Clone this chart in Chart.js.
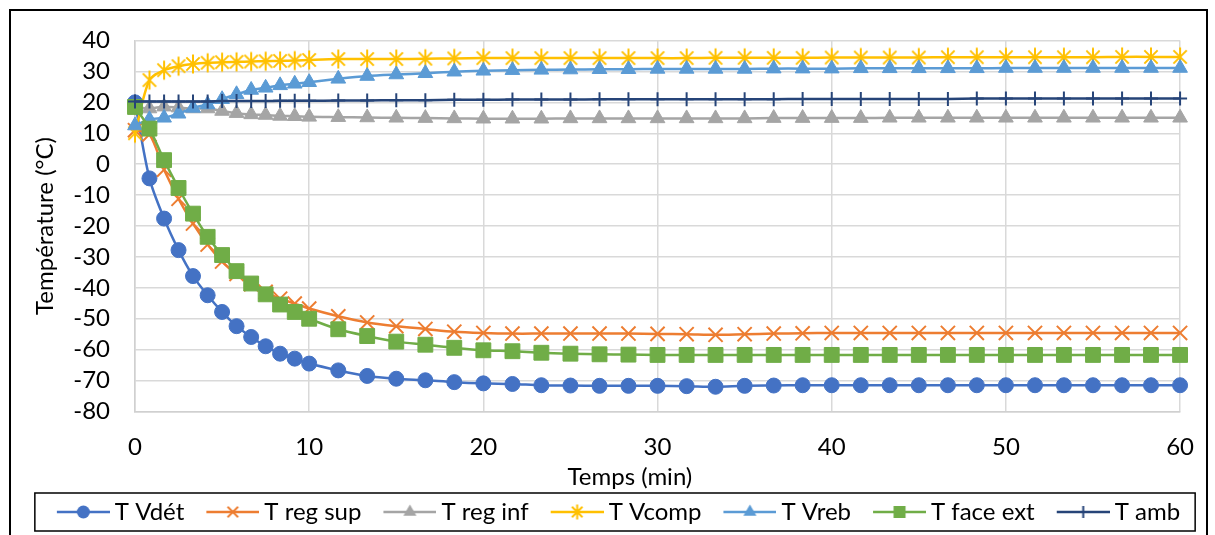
<!DOCTYPE html>
<html>
<head>
<meta charset="utf-8">
<script src="https://cdn.jsdelivr.net/npm/chart.js@4.4.1/dist/chart.umd.min.js"></script>
<style>
  html, body { margin: 0; padding: 0; background: #fff; }
  #frame { position: absolute; left: 9px; top: 9px; width: 1199px; height: 600px; border: 2px solid #000; box-sizing: border-box; }
  #c { position: absolute; left: 0; top: 0; }
</style>
</head>
<body>
<div id="frame"></div>
<canvas id="c" width="1215" height="535"></canvas>
<script>
// ---- data ----
const times = [0, 0.83, 1.67, 2.5, 3.33, 4.17, 5, 5.83, 6.67, 7.5, 8.33, 9.17, 10,
  11.67, 13.33, 15, 16.67, 18.33, 20, 21.67, 23.33, 25, 26.67, 28.33, 30,
  31.67, 33.33, 35, 36.67, 38.33, 40, 41.67, 43.33, 45, 46.67, 48.33, 50,
  51.67, 53.33, 55, 56.67, 58.33, 60];

const tVdet = [20, -4.6, -17.6, -27.8, -36.2, -42.4, -47.8, -52.4, -55.9, -58.9, -61.3, -62.9, -64.5,
  -66.7, -68.5, -69.4, -69.9, -70.5, -70.9, -71.1, -71.5, -71.6, -71.7, -71.7, -71.7,
  -71.8, -72.0, -71.7, -71.6, -71.5, -71.5, -71.5, -71.5, -71.5, -71.5, -71.5, -71.5,
  -71.5, -71.5, -71.5, -71.5, -71.5, -71.5];

const tRegSup = [11, 9.6, -1.8, -11.2, -19.2, -26, -31.5, -35.5, -38.8, -41.3, -43.5, -45.1, -46.7,
  -49.2, -51.2, -52.4, -53.3, -54.2, -54.6, -54.8, -54.8, -54.8, -54.8, -54.8, -54.9,
  -55.0, -55.2, -55.0, -54.8, -54.7, -54.6, -54.6, -54.6, -54.6, -54.6, -54.6, -54.6,
  -54.6, -54.6, -54.6, -54.6, -54.6, -54.6];

const tRegInf = [18.5, 18.0, 18.6, 18.3, 18.0, 18.0, 17.2, 16.5, 16.1, 15.9, 15.6, 15.5, 15.3,
  15.2, 15.1, 15.0, 14.9, 14.8, 14.7, 14.7, 14.7, 14.8, 14.8, 14.8, 14.8,
  14.8, 14.8, 14.8, 14.9, 14.9, 14.9, 14.9, 15.0, 15.0, 15.0, 15.0, 15.0,
  15.0, 15.0, 15.0, 15.0, 15.0, 15.0];

const tVcomp = [10, 27.2, 30.4, 31.7, 32.4, 32.8, 33.0, 33.1, 33.2, 33.3, 33.4, 33.5, 33.7,
  34.0, 34.0, 34.0, 34.1, 34.2, 34.3, 34.3, 34.3, 34.3, 34.3, 34.3, 34.3,
  34.3, 34.4, 34.4, 34.4, 34.4, 34.5, 34.5, 34.5, 34.5, 34.6, 34.6, 34.6,
  34.6, 34.6, 34.6, 34.7, 34.7, 34.7];

const tVreb = [12.5, 14.5, 15.0, 16.3, 18.2, 19.3, 21.0, 22.6, 24.0, 24.7, 25.5, 26.0, 26.5,
  27.6, 28.5, 29.0, 29.4, 29.9, 30.2, 30.4, 30.5, 30.6, 30.7, 30.7, 30.8,
  30.8, 30.8, 30.8, 30.9, 30.9, 30.9, 31.0, 31.0, 31.0, 31.0, 31.0, 31.1,
  31.1, 31.1, 31.1, 31.1, 31.1, 31.1];

const tFaceExt = [18.5, 11.5, 1.3, -7.7, -16, -23.5, -29.4, -34.6, -38.6, -42.1, -45.4, -47.8, -50,
  -53.4, -55.6, -57.4, -58.4, -59.4, -60.2, -60.5, -61.0, -61.3, -61.5, -61.6, -61.7,
  -61.7, -61.7, -61.7, -61.7, -61.7, -61.7, -61.7, -61.7, -61.7, -61.7, -61.7, -61.7,
  -61.7, -61.7, -61.7, -61.7, -61.7, -61.7];

const tAmb = [20.3, 20.3, 20.3, 20.3, 20.3, 20.3, 20.4, 20.4, 20.4, 20.4, 20.5, 20.5, 20.5,
  20.6, 20.6, 20.7, 20.7, 20.8, 20.8, 20.9, 20.9, 20.9, 21.0, 21.0, 21.0,
  21.0, 21.0, 21.0, 21.0, 21.1, 21.1, 21.1, 21.1, 21.1, 21.1, 21.2, 21.2,
  21.2, 21.2, 21.2, 21.2, 21.2, 21.2];

const seriesNames = ['T Vdét', 'T reg sup', 'T reg inf', 'T Vcomp', 'T Vreb', 'T face ext', 'T amb'];
const xTitle = 'Temps (min)';
const yTitle = 'Température (°C)';
const xTickValues = [0, 10, 20, 30, 40, 50, 60];
const yTickValues = [-80, -70, -60, -50, -40, -30, -20, -10, 0, 10, 20, 30, 40];

// ---- styling ----
const FONT = 'Lato';
const FS = 24;
const colors = ['#4472C4', '#ED7D31', '#A5A5A5', '#FFC000', '#5B9BD5', '#70AD47', '#264478'];
const styles = ['circle', 'crossRot', 'triangle', 'star', 'triangle', 'rect', 'cross'];
const radii = [7.5, 10, 8.5, 10, 8.5, 10.5, 7];
const seriesValues = [tVdet, tRegSup, tRegInf, tVcomp, tVreb, tFaceExt, tAmb];

function drawMarker(ctx, style, color, x, y, s) {
  ctx.fillStyle = color; ctx.strokeStyle = color; ctx.lineWidth = 2;
  ctx.beginPath();
  if (style === 'circle') { ctx.arc(x, y, s, 0, Math.PI * 2); ctx.fill(); }
  else if (style === 'rect') { ctx.fillRect(x - s, y - s, 2 * s, 2 * s); }
  else if (style === 'triangle') {
    ctx.moveTo(x, y - s); ctx.lineTo(x + s * 0.87, y + s * 0.5); ctx.lineTo(x - s * 0.87, y + s * 0.5); ctx.closePath(); ctx.fill();
  } else if (style === 'crossRot') {
    const d = s * 0.7;
    ctx.moveTo(x - d, y - d); ctx.lineTo(x + d, y + d); ctx.moveTo(x + d, y - d); ctx.lineTo(x - d, y + d); ctx.stroke();
  } else if (style === 'star') {
    const d = s * 0.7;
    ctx.moveTo(x - d, y - d); ctx.lineTo(x + d, y + d); ctx.moveTo(x + d, y - d); ctx.lineTo(x - d, y + d);
    ctx.moveTo(x, y - s); ctx.lineTo(x, y + s); ctx.stroke();
  } else if (style === 'cross') {
    ctx.moveTo(x, y - s); ctx.lineTo(x, y + s); ctx.stroke();
  }
}

// Excel-like asterisk marker (X plus vertical bar) used for T Vcomp points
function starImage() {
  const cv = document.createElement('canvas');
  cv.width = 22; cv.height = 22;
  drawMarker(cv.getContext('2d'), 'star', colors[3], 11, 11, 9.5);
  return cv;
}
const STAR_IMG = starImage();

// legend symbol: line of 53px plus marker, ending 5px before the text
const LEG_LINE = 53, LEG_PAD = 0, LEG_B = 68, LEG_W = LEG_B + 14;
function legendImage(i) {
  const cv = document.createElement('canvas');
  cv.width = LEG_W; cv.height = 22;
  const ctx = cv.getContext('2d');
  ctx.strokeStyle = colors[i]; ctx.lineWidth = 2.5;
  ctx.beginPath(); ctx.moveTo(LEG_W - LEG_LINE, 11); ctx.lineTo(LEG_W, 11); ctx.stroke();
  const cx = LEG_W - LEG_LINE / 2;
  const sizes = {circle: 6.5, rect: 6, triangle: 7.5, crossRot: 7.5, star: 7.5, cross: 6};
  drawMarker(ctx, styles[i], colors[i], cx, 11, sizes[styles[i]]);
  return cv;
}

const datasets = seriesNames.map((name, i) => ({
  label: name,
  data: times.map((t, k) => ({x: t, y: seriesValues[i][k]})),
  borderColor: colors[i],
  backgroundColor: colors[i],
  borderWidth: 2.5,
  pointStyle: styles[i] === 'star' ? STAR_IMG : styles[i],
  pointRadius: radii[i],
  pointBorderWidth: (styles[i] === 'crossRot' || styles[i] === 'cross') ? 2 : 1,
  pointBackgroundColor: colors[i],
  pointBorderColor: colors[i],
  tension: 0.3,
  clip: false,
  order: seriesNames.length - 1 - i
}));

const legendBorder = {
  id: 'legendBorder',
  afterDraw(chart) {
    const lg = chart.legend;
    if (!lg || !lg.legendHitBoxes || !lg.legendHitBoxes.length) return;
    const hb = lg.legendHitBoxes;
    const first = hb[0], last = hb[hb.length - 1];
    const lineStart = first.left + LEG_B + 7 - LEG_LINE;
    const left = lineStart - 22;
    const right = last.left + last.width + 15;
    const ctx = chart.ctx;
    ctx.save();
    ctx.strokeStyle = '#000'; ctx.lineWidth = 1.5;
    ctx.strokeRect(left, lg.top - 7, right - left, 38);
    ctx.restore();
  }
};

new Chart(document.getElementById('c'), {
  type: 'line',
  data: { datasets },
  options: {
    responsive: false,
    devicePixelRatio: 1,
    animation: false,
    layout: { padding: { left: 27, right: 27, top: 40.5, bottom: 1 } },
    font: { family: FONT, size: FS },
    scales: {
      x: {
        type: 'linear', min: 0, max: 60,
        afterBuildTicks: (s) => { s.ticks = xTickValues.map(v => ({value: v})); },
        afterFit: (s) => { s.height = 88.5; },
        grid: { color: '#D9D9D9', lineWidth: 1.5, drawTicks: false },
        border: { display: true, color: '#D0D0D0', width: 1.5 },
        ticks: { color: '#000', padding: 21, autoSkip: false, font: { family: FONT, size: FS }, maxRotation: 0 },
        title: { display: true, text: xTitle + '         ', color: '#000', font: { family: FONT, size: FS }, padding: { top: 0, bottom: 8.6 } }
      },
      y: {
        type: 'linear', min: -80, max: 40,
        afterBuildTicks: (s) => { s.ticks = yTickValues.map(v => ({value: v})); },
        afterFit: (s) => { s.width = 108; },
        grid: { color: '#D9D9D9', lineWidth: 1.5, drawTicks: false },
        border: { display: true, color: '#D0D0D0', width: 1.5 },
        ticks: { color: '#000', padding: 25, autoSkip: false, font: { family: FONT, size: FS } },
        title: { display: true, text: yTitle, color: '#000', font: { family: FONT, size: FS }, padding: { top: 3.6, bottom: 0 } }
      }
    },
    plugins: {
      tooltip: { enabled: false },
      legend: {
        display: true,
        position: 'bottom',
        labels: {
          usePointStyle: true,
          pointStyleWidth: LEG_B,
          boxHeight: FS,
          padding: LEG_PAD,
          color: '#000',
          font: { family: FONT, size: FS },
          generateLabels: (chart) => chart.data.datasets.map((ds, i) => ({
            text: ds.label,
            pointStyle: legendImage(i),
            fillStyle: 'rgba(0,0,0,0)',
            strokeStyle: 'rgba(0,0,0,0)',
            lineWidth: 0,
            hidden: false,
            datasetIndex: i,
            fontColor: '#000'
          }))
        }
      }
    }
  },
  plugins: [legendBorder]
});
</script>
</body>
</html>
